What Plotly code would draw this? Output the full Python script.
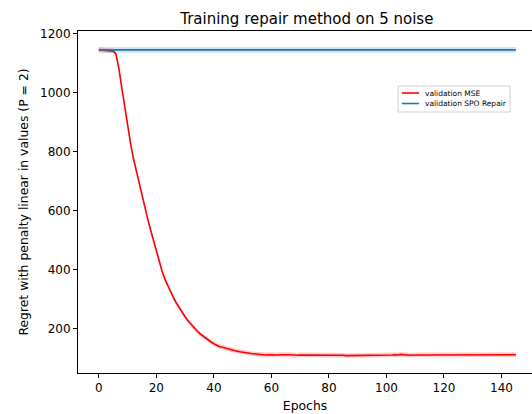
import plotly.graph_objects as go

# --- data ---
red_mse = [
    1146, 1145, 1146, 1145, 1144, 1141,
    1130, 1080, 1015, 950, 885, 830, 778, 735, 693, 652,
    612, 572, 535, 498, 462, 428, 395, 368, 345, 325,
    305, 287, 270, 255, 241, 228, 216, 205, 195, 185,
    177, 169, 162, 156, 150, 145, 140, 138, 135, 132,
    129, 127, 125, 123, 121, 120, 118, 117, 116, 115,
    114, 112, 112, 113, 112,
    112, 112, 113, 112, 113, 113, 112, 112, 111, 112,
    112, 111, 112, 111, 112, 112, 111, 112, 111, 112,
    113, 112, 111, 111, 111, 110, 110, 111, 111, 112,
    112, 111, 112, 112, 112, 111, 112, 112, 111, 112,
    112, 112, 113, 112, 114, 112, 112, 111, 112, 113,
    112, 112, 111, 112, 112, 112, 112, 111, 112, 112,
    111, 112, 113, 112, 112, 111, 112, 113, 112, 112,
    112, 111, 112, 112, 113, 112, 113, 112, 112, 113,
    112, 112, 111, 112, 113,
]
epochs = list(range(len(red_mse)))
spo_value = 1145
blue_spo = [spo_value] * len(epochs)
red_spread = 8
blue_spread = 10
series_names = ["validation MSE", "validation SPO Repair"]

x_ticks = [0, 20, 40, 60, 80, 100, 120, 140]
y_ticks = [200, 400, 600, 800, 1000, 1200]

RED = "#ff0000"
BLUE = "#1f77b4"

# plot-area geometry in pixels (for the hand-drawn legend)
L, T, B, W, H = 78, 31, 41, 532, 414
PW, PH = W - L, H - T - B


def px_x(px):
    return (px - L) / PW


def px_y(py):
    return (H - B - py) / PH


fig = go.Figure()

# shaded bands
fig.add_trace(go.Scatter(x=epochs, y=[v + red_spread for v in red_mse], mode="lines",
                         line=dict(width=0), showlegend=False, hoverinfo="skip"))
fig.add_trace(go.Scatter(x=epochs, y=[v - red_spread for v in red_mse], mode="lines",
                         line=dict(width=0), fill="tonexty",
                         fillcolor="rgba(255,0,0,0.2)", showlegend=False, hoverinfo="skip"))
fig.add_trace(go.Scatter(x=epochs, y=[v + blue_spread for v in blue_spo], mode="lines",
                         line=dict(width=0), showlegend=False, hoverinfo="skip"))
fig.add_trace(go.Scatter(x=epochs, y=[v - blue_spread for v in blue_spo], mode="lines",
                         line=dict(width=0), fill="tonexty",
                         fillcolor="rgba(31,119,180,0.2)", showlegend=False, hoverinfo="skip"))

fig.add_trace(go.Scatter(x=epochs, y=red_mse, mode="lines", name=series_names[0],
                         line=dict(color=RED, width=1.6), showlegend=False))
fig.add_trace(go.Scatter(x=epochs, y=blue_spo, mode="lines", name=series_names[1],
                         line=dict(color=BLUE, width=1.6), showlegend=False))

# legend drawn by hand (matplotlib-style compact box)
shapes = [dict(type="rect", xref="paper", yref="paper",
               x0=px_x(398), x1=px_x(510), y0=px_y(112), y1=px_y(86),
               line=dict(color="#d0d0d0", width=1), fillcolor="rgba(255,255,255,0.8)",
               layer="above")]
annotations = []
for name, color, py in [(series_names[0], RED, 93), (series_names[1], BLUE, 103.5)]:
    shapes.append(dict(type="line", xref="paper", yref="paper",
                       x0=px_x(402), x1=px_x(419), y0=px_y(py), y1=px_y(py),
                       line=dict(color=color, width=1.6), layer="above"))
    annotations.append(dict(text=name, xref="paper", yref="paper",
                            x=px_x(423), y=px_y(py), xanchor="left", yanchor="middle",
                            showarrow=False,
                            font=dict(family="DejaVu Sans", size=7.5, color="black")))

axis_common = dict(
    showgrid=False, zeroline=False, showline=True, linecolor="black", linewidth=1,
    ticks="outside", ticklen=4, tickwidth=1, tickcolor="black",
    tickfont=dict(family="DejaVu Sans", size=12, color="black"),
)

fig.update_layout(
    width=W, height=H,
    margin=dict(l=L, r=0, t=T, b=B),
    paper_bgcolor="white", plot_bgcolor="white",
    font=dict(family="DejaVu Sans", color="black"),
    title=dict(text="Training repair method on 5 noise", x=0.504, xref="paper",
               y=1 - 19 / H, yanchor="middle",
               font=dict(family="DejaVu Sans", size=15, color="black")),
    xaxis=dict(range=[-7.25, 150.6], tickvals=x_ticks, mirror=True,
               title=dict(text="Epochs", font=dict(size=12.4), standoff=6),
               **axis_common),
    yaxis=dict(range=[51, 1209], tickvals=y_ticks,
               title=dict(text="Regret with penalty linear in values (P = 2)",
                          font=dict(size=12.4), standoff=8),
               **axis_common),
    shapes=shapes,
    annotations=annotations,
    showlegend=False,
)

fig.write_html("out.html")
